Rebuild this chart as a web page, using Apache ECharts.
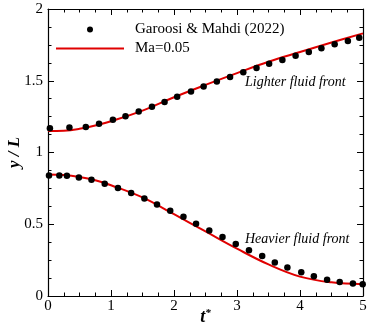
<!DOCTYPE html>
<html>
<head>
<meta charset="utf-8">
<script src="https://cdn.jsdelivr.net/npm/echarts@6/dist/echarts.min.js"></script>
<style>html,body{margin:0;padding:0;background:#fff;}#c{width:372px;height:327px;}</style>
</head>
<body>
<div id="c"></div>
<script>
// Reference data (Garoosi & Mahdi 2022) - lighter fluid front
const upperRefT = [0.03, 0.34, 0.60, 0.81, 1.03, 1.23, 1.44, 1.65, 1.85, 2.05, 2.27, 2.47, 2.68, 2.89, 3.10, 3.31, 3.51, 3.72, 3.93, 4.14, 4.34, 4.55, 4.76, 4.94];
const upperRefY = [1.169, 1.174, 1.177, 1.200, 1.228, 1.252, 1.285, 1.318, 1.352, 1.389, 1.425, 1.460, 1.494, 1.527, 1.560, 1.589, 1.619, 1.645, 1.675, 1.701, 1.726, 1.754, 1.777, 1.800];
// Reference data - heavier fluid front
const lowerRefT = [0.016, 0.18, 0.30, 0.49, 0.69, 0.90, 1.11, 1.32, 1.53, 1.73, 1.94, 2.15, 2.35, 2.56, 2.77, 2.98, 3.19, 3.40, 3.60, 3.80, 4.02, 4.22, 4.43, 4.63, 4.84, 4.995];
const lowerRefY = [0.840, 0.840, 0.838, 0.826, 0.810, 0.782, 0.752, 0.717, 0.680, 0.638, 0.594, 0.552, 0.503, 0.457, 0.411, 0.362, 0.318, 0.279, 0.234, 0.198, 0.165, 0.137, 0.114, 0.097, 0.087, 0.082];
// Ma=0.05 simulation curves
const lineT = [0, 0.25, 0.5, 0.75, 1.0, 1.5, 2.0, 2.5, 3.0, 3.5, 4.0, 4.5, 5.0];
const upperLineY = [1.150, 1.152, 1.165, 1.188, 1.218, 1.292, 1.385, 1.471, 1.553, 1.632, 1.700, 1.766, 1.830];
const lowerLineY = [0.847, 0.843, 0.829, 0.806, 0.772, 0.687, 0.570, 0.450, 0.330, 0.220, 0.135, 0.095, 0.082];

const refName = 'Garoosi & Mahdi (2022)';
const lineName = 'Ma=0.05';
const xTicks = {min: 0, max: 5, interval: 1};
const yTicks = {min: 0, max: 2, interval: 0.5};
const annoUpper = 'Lighter fluid front';
const annoLower = 'Heavier fluid front';

const zip = (a, b) => a.map((v, i) => [v, b[i]]);
const FONT = '"Liberation Serif", "DejaVu Serif", serif';

const chart = echarts.init(document.getElementById('c'), null, {renderer: 'canvas'});

const axisCommon = {
  type: 'value',
  axisLine: {show: true, onZero: false, lineStyle: {color: '#000', width: 1.2}},
  axisTick: {show: true, inside: true, length: 6, lineStyle: {color: '#000', width: 1}},
  minorTick: {show: true, splitNumber: 4, length: 3.5, lineStyle: {color: '#000', width: 1}},
  splitLine: {show: false},
  minorSplitLine: {show: false}
};

chart.setOption({
  animation: false,
  backgroundColor: '#fff',
  grid: {left: 48, right: 9, top: 9, bottom: 31, containLabel: false, outerBoundsMode: 'none'},
  xAxis: [
    Object.assign({}, axisCommon, {
      position: 'bottom', min: xTicks.min, max: xTicks.max, interval: xTicks.interval,
      axisLabel: {show: true, color: '#000', fontFamily: FONT, fontSize: 15, margin: 3},
      name: '{t|t}{s|*}', nameLocation: 'middle', nameGap: 12, nameMoveOverlap: false,
      nameTextStyle: {rich: {
        t: {fontFamily: FONT, fontStyle: 'italic', fontWeight: 'bold', fontSize: 18, color: '#000'},
        s: {fontFamily: FONT, fontStyle: 'italic', fontWeight: 'bold', fontSize: 11, color: '#000', verticalAlign: 'top', padding: [0, 0, 8, 0]}
      }}
    }),
    Object.assign({}, axisCommon, {
      position: 'top', min: xTicks.min, max: xTicks.max, interval: xTicks.interval,
      axisLabel: {show: false}
    })
  ],
  yAxis: [
    Object.assign({}, axisCommon, {
      position: 'left', min: yTicks.min, max: yTicks.max, interval: yTicks.interval,
      axisLabel: {show: true, color: '#000', fontFamily: FONT, fontSize: 15, margin: 5},
      name: 'y / L', nameLocation: 'middle', nameGap: 25, nameRotate: 90, nameMoveOverlap: false,
      nameTextStyle: {fontFamily: FONT, fontStyle: 'italic', fontWeight: 'bold', fontSize: 17, color: '#000'}
    }),
    Object.assign({}, axisCommon, {
      position: 'right', min: yTicks.min, max: yTicks.max, interval: yTicks.interval,
      axisLabel: {show: false}
    })
  ],
  legend: [
    {
      data: [{name: refName, icon: 'circle'}], orient: 'vertical', left: 87, top: 22, padding: 0,
      itemWidth: 6, itemHeight: 6,
      textStyle: {fontFamily: FONT, fontSize: 15, color: '#000', padding: [0, 0, 0, 37]},
      selectedMode: false
    },
    {
      data: [{name: lineName, icon: 'rect'}], orient: 'vertical', left: 56, top: 41, padding: 0,
      itemWidth: 68, itemHeight: 2,
      textStyle: {fontFamily: FONT, fontSize: 15, color: '#000', padding: [0, 0, 0, 6]},
      selectedMode: false
    }
  ],
  graphic: [
    {type: 'text', left: 245, top: 75, style: {text: annoUpper, font: 'italic 14px ' + FONT, fill: '#000'}},
    {type: 'text', left: 245, top: 232, style: {text: annoLower, font: 'italic 14px ' + FONT, fill: '#000'}}
  ],
  series: [
    {
      name: refName, type: 'scatter', xAxisIndex: 0, yAxisIndex: 0,
      symbol: 'circle', symbolSize: 6.5, itemStyle: {color: '#000', opacity: 1},
      data: zip(upperRefT, upperRefY), z: 3
    },
    {
      name: refName, type: 'scatter', xAxisIndex: 0, yAxisIndex: 0,
      symbol: 'circle', symbolSize: 6.5, itemStyle: {color: '#000', opacity: 1},
      data: zip(lowerRefT, lowerRefY), z: 3
    },
    {
      name: lineName, type: 'line', xAxisIndex: 0, yAxisIndex: 0,
      symbol: 'none', smooth: 0.4, lineStyle: {color: '#e00000', width: 2}, itemStyle: {color: '#e00000'},
      data: zip(lineT, upperLineY), z: 2
    },
    {
      name: lineName, type: 'line', xAxisIndex: 0, yAxisIndex: 0,
      symbol: 'none', smooth: 0.4, lineStyle: {color: '#e00000', width: 2}, itemStyle: {color: '#e00000'},
      data: zip(lineT, lowerLineY), z: 2
    }
  ]
});
</script>
</body>
</html>
